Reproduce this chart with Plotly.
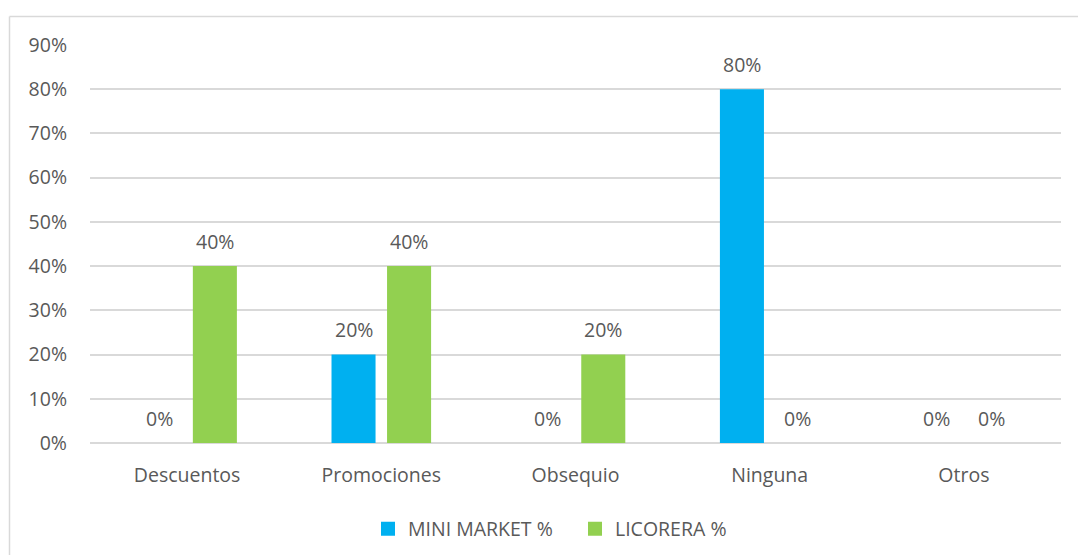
import plotly.graph_objects as go

categories = ["Descuentos", "Promociones", "Obsequio", "Ninguna", "Otros"]
mini_market = [0.0, 0.20, 0.0, 0.80, 0.0]
licorera = [0.40, 0.40, 0.20, 0.0, 0.0]
series_names = ["MINI MARKET %", "LICORERA %"]
colors = ["#00B0F0", "#92D050"]
y_ticks = [i / 10 for i in range(10)]

W, H = 1078, 555
L, R, T, B = 90, 17, 45, 112
BARGAP = 0.428
GROUPGAP = 0.207
FONT = "Open Sans, sans-serif"
FS = 19.5
TXT = "#595959"

fig = go.Figure()
for name, vals, col in zip(series_names, [mini_market, licorera], colors):
    fig.add_trace(go.Bar(x=list(range(len(categories))), y=vals, name=name,
                         showlegend=False,
                         marker=dict(color=col, line=dict(width=0))))
# square legend keys
for name, col in zip(series_names, colors):
    fig.add_trace(go.Scatter(x=[None], y=[None], mode="markers", name=name,
                             marker=dict(symbol="square", size=14, color=col)))

# value labels above each bar
slot = (1 - BARGAP) / 2
for k, vals in enumerate([mini_market, licorera]):
    off = (k - 0.5) * slot
    for i, v in enumerate(vals):
        fig.add_annotation(x=i + off, y=v, xref="x", yref="y",
                           text=f"{round(v * 100)}%", showarrow=False,
                           yshift=25, font=dict(size=FS, color=TXT, family=FONT))

pw, ph = W - L - R, H - T - B
px = lambda p: (p - L) / pw
py = lambda p: (H - B - p) / ph
border = dict(color="#d9d9d9", width=1.5)
fig.add_shape(type="line", xref="paper", yref="paper", x0=px(9.5), x1=px(1080),
              y0=py(16.5), y1=py(16.5), line=border)
fig.add_shape(type="line", xref="paper", yref="paper", x0=px(9.5), x1=px(9.5),
              y0=py(16.5), y1=py(560), line=border)

fig.update_layout(
    width=W, height=H, margin=dict(l=L, r=R, t=T, b=B, autoexpand=False),
    paper_bgcolor="white", plot_bgcolor="white",
    barmode="group", bargap=BARGAP, bargroupgap=GROUPGAP,
    font=dict(family=FONT, size=FS, color=TXT),
    xaxis=dict(tickmode="array", tickvals=list(range(len(categories))),
               ticktext=categories, range=[-0.5, len(categories) - 0.5],
               showgrid=False, zeroline=False, showline=False,
               tickfont=dict(size=FS, color=TXT), ticks="", ticklen=0),
    yaxis=dict(range=[0, 0.9], tickvals=y_ticks, tickformat=".0%",
               showgrid=True, gridcolor="#d9d9d9", gridwidth=1.5,
               zeroline=True, zerolinecolor="#d9d9d9", zerolinewidth=1.5,
               showline=False, ticks="", tickfont=dict(size=FS, color=TXT)),
    legend=dict(orientation="h", x=px(368), xanchor="left", y=py(529), yanchor="middle",
                font=dict(size=FS, color=TXT), itemwidth=30, entrywidth=162,
                traceorder="normal"),
    showlegend=True,
)
fig.update_xaxes(automargin=False, ticklabelstandoff=18)
fig.update_yaxes(automargin=False, ticklabelstandoff=22)

fig.write_html("out.html")
